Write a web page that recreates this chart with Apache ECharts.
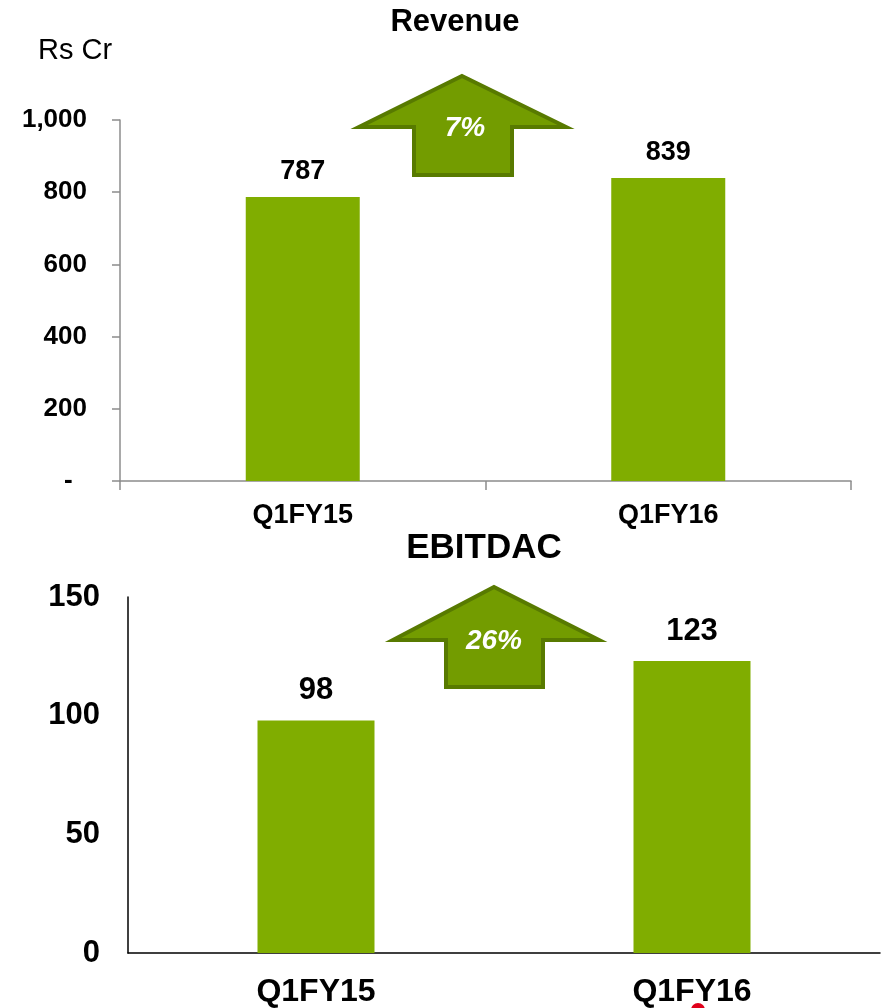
<!DOCTYPE html>
<html>
<head>
<meta charset="utf-8">
<script src="https://cdn.jsdelivr.net/npm/echarts@6/dist/echarts.min.js"></script>
<style>
  html, body { margin: 0; padding: 0; background: #fff; }
  #main { width: 881px; height: 1008px; }
</style>
</head>
<body>
<div id="main"></div>
<script>
// data
let categories = ['Q1FY15', 'Q1FY16'];
let revenue = [787, 839];
let ebitdac = [98, 123];
let revenueGrowth = '7%';
let ebitdacGrowth = '26%';

let barColor = '#80ad00';
let arrowFill = '#739c00';
let arrowStroke = '#587a00';
let font = '"Liberation Sans", Arial, sans-serif';

// up arrow shape, pixel geometry of the badge only
function arrow(tipX, tipY, wingL, wingR, wingY, stemL, stemR, bottom) {
    return [[tipX, tipY], [wingR, wingY], [stemR, wingY], [stemR, bottom],
            [stemL, bottom], [stemL, wingY], [wingL, wingY]];
}

let myChart = echarts.init(document.getElementById('main'));
myChart.setOption({
    backgroundColor: '#fff',
    animation: false,
    textStyle: { fontFamily: font },
    title: [
        { text: 'Revenue', left: 450, top: 2, textAlign: 'center',
          textStyle: { fontSize: 31, fontWeight: 'bold', color: '#000', fontFamily: font } },
        { text: 'EBITDAC', left: 479, top: 526, textAlign: 'center',
          textStyle: { fontSize: 35, fontWeight: 'bold', color: '#000', fontFamily: font } },
        { text: 'Rs Cr', left: 33, top: 31,
          textStyle: { fontSize: 29, fontWeight: 'normal', color: '#000', fontFamily: font } }
    ],
    grid: [
        { left: 120, top: 120, width: 731, height: 361 },
        { left: 128, top: 597, width: 752, height: 357 }
    ],
    xAxis: [{
        gridIndex: 0,
        type: 'category',
        data: categories,
        axisLine: { lineStyle: { color: '#8c8c8c', width: 1.5 } },
        axisTick: { show: true, length: 9, lineStyle: { color: '#8c8c8c', width: 1.5 } },
        axisLabel: { margin: 21, fontSize: 27, fontWeight: 'bold', color: '#000', fontFamily: font }
    }, {
        gridIndex: 1,
        type: 'category',
        data: categories,
        axisLine: { lineStyle: { color: '#000', width: 1.5 } },
        axisTick: { show: false },
        axisLabel: { margin: 23, fontSize: 32, fontWeight: 'bold', color: '#000', fontFamily: font }
    }],
    yAxis: [{
        gridIndex: 0,
        type: 'value',
        min: 0, max: 1000, interval: 200,
        splitLine: { show: false },
        axisLine: { show: true, lineStyle: { color: '#8c8c8c', width: 1.5 } },
        axisTick: { show: true, length: 8, lineStyle: { color: '#8c8c8c', width: 1.5 } },
        axisLabel: {
            margin: 33, fontSize: 26, fontWeight: 'bold', color: '#000', fontFamily: font,
            // accounting style: zero shown as a dash, padded like Excel does
            formatter: function (v) { return v === 0 ? '-  ' : v.toLocaleString('en-US'); }
        }
    }, {
        gridIndex: 1,
        type: 'value',
        min: 0, max: 150, interval: 50,
        splitLine: { show: false },
        axisLine: { show: true, lineStyle: { color: '#000', width: 1.5 } },
        axisTick: { show: false },
        axisLabel: { margin: 28, fontSize: 31, fontWeight: 'bold', color: '#000', fontFamily: font }
    }],
    series: [{
        type: 'bar',
        xAxisIndex: 0, yAxisIndex: 0,
        data: revenue,
        barWidth: 114,
        itemStyle: { color: barColor },
        label: { show: true, position: 'top', distance: 12, fontSize: 27, fontWeight: 'bold', color: '#000', fontFamily: font }
    }, {
        type: 'bar',
        xAxisIndex: 1, yAxisIndex: 1,
        data: ebitdac,
        barWidth: 117,
        itemStyle: { color: barColor },
        label: { show: true, position: 'top', distance: 14, fontSize: 31, fontWeight: 'bold', color: '#000', fontFamily: font }
    }],
    graphic: [{
        type: 'polygon',
        shape: { points: arrow(462, 76, 359, 566, 127, 414, 512, 175) },
        style: { fill: arrowFill, stroke: arrowStroke, lineWidth: 4, lineJoin: 'miter' }
    }, {
        type: 'text',
        x: 465, y: 128,
        style: { text: revenueGrowth, fill: '#fff', font: 'italic bold 28px ' + font, align: 'center', verticalAlign: 'middle' }
    }, {
        type: 'polygon',
        shape: { points: arrow(494, 587, 393, 599, 640, 446, 543, 687) },
        style: { fill: arrowFill, stroke: arrowStroke, lineWidth: 4, lineJoin: 'miter' }
    }, {
        type: 'text',
        x: 494, y: 641,
        style: { text: ebitdacGrowth, fill: '#fff', font: 'italic bold 28px ' + font, align: 'center', verticalAlign: 'middle' }
    }, {
        type: 'circle',
        shape: { cx: 698, cy: 1010, r: 7 },
        style: { fill: '#e0001b' }
    }]
});
</script>
</body>
</html>
